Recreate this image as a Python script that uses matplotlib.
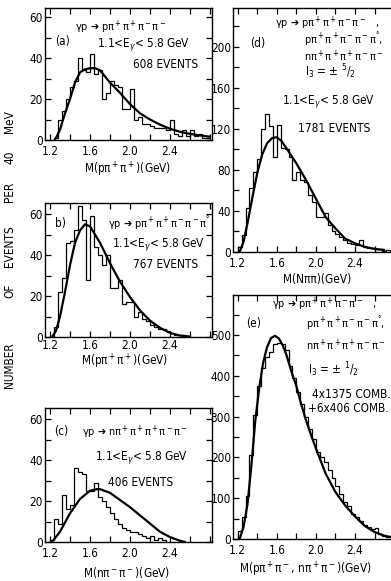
import numpy as np
import matplotlib
matplotlib.use("Agg")
import matplotlib.pyplot as plt
from matplotlib.ticker import MultipleLocator

plt.rcParams['font.family'] = ['DejaVu Sans']
plt.rcParams['font.stretch'] = 'condensed'
plt.rcParams['mathtext.fontset'] = 'dejavusans'

W, H = 391, 581
BIN = 0.04

# ---------------- data ----------------
a_start = 1.24
a_counts = [1, 10, 14, 20, 26, 29, 40, 34, 33, 42, 32, 34, 20, 23, 29, 27, 26, 15, 15, 25,
            10, 11, 8, 8, 7, 6, 6, 6, 5, 10, 3, 2, 5, 2, 5, 2, 3, 1, 1]
a_curve_x = [1.25, 1.30, 1.35, 1.40, 1.45, 1.50, 1.55, 1.60, 1.65, 1.70, 1.80, 1.90, 2.00,
             2.10, 2.20, 2.30, 2.40, 2.50, 2.60, 2.70, 2.80]
a_curve_y = [0, 5, 13, 20, 28, 33, 34.5, 35, 35, 34, 28, 23, 17.5, 13, 10, 7.5, 5.5, 4, 3, 2.2, 1.6]

b_start = 1.24
b_counts = [5, 22, 29, 46, 47, 52, 64, 57, 28, 59, 44, 40, 35, 40, 24, 24, 28, 16, 17, 17,
            10, 12, 9, 8, 6, 5, 4, 4, 3, 2, 1, 1, 1]
b_curve_x = [1.22, 1.26, 1.30, 1.35, 1.40, 1.45, 1.50, 1.55, 1.60, 1.70, 1.80, 1.90, 2.00,
             2.10, 2.20, 2.30, 2.40, 2.50, 2.60]
b_curve_y = [0, 3, 10, 22, 35, 46, 52, 55, 54, 46, 36, 27, 19.5, 13, 8, 4.5, 2, 0.7, 0.2]

c_start = 1.20
c_counts = [1, 11, 9, 23, 16, 18, 36, 34, 33, 25, 25, 29, 22, 20, 17, 14, 11, 9, 7, 6,
            5, 5, 4, 3, 2, 3, 1, 2, 1]
c_curve_x = [1.22, 1.30, 1.40, 1.50, 1.60, 1.67, 1.70, 1.80, 1.90, 2.00, 2.10, 2.20, 2.30,
             2.40, 2.50, 2.55]
c_curve_y = [0, 5, 14, 21, 25, 25.8, 25.8, 24, 20.5, 17, 13, 9, 5, 2.4, 0.6, 0]

d_start = 1.20
d_counts = [5, 17, 43, 62, 78, 91, 120, 135, 123, 93, 124, 101, 100, 93, 70, 78, 70, 68, 56, 49,
            34, 34, 38, 26, 20, 18, 15, 12, 9, 8, 7, 12, 5, 4, 4, 3, 3, 1, 2]
d_curve_x = [1.22, 1.26, 1.30, 1.35, 1.40, 1.45, 1.50, 1.55, 1.60, 1.65, 1.70, 1.80, 1.90,
             2.00, 2.10, 2.20, 2.30, 2.40, 2.50, 2.60, 2.70]
d_curve_y = [0, 10, 28, 53, 77, 95, 106, 111, 112, 108, 101, 86.5, 70, 52, 34, 23, 13, 8.5, 5, 3, 2]

e_start = 1.20
e_counts = [20, 55, 105, 205, 305, 375, 420, 445, 458, 478, 480, 478, 462, 425, 395, 360, 330,
            300, 270, 245, 212, 200, 188, 168, 150, 130, 110, 90, 80, 62, 55, 45, 35, 30, 25, 28,
            12, 8, 6, 4]
e_curve_x = [1.22, 1.26, 1.30, 1.34, 1.38, 1.42, 1.46, 1.50, 1.54, 1.58, 1.62, 1.66, 1.70,
             1.75, 1.80, 1.85, 1.90, 1.95, 2.00, 2.10, 2.20, 2.30, 2.40, 2.50, 2.60, 2.70, 2.78]
e_curve_y = [0, 30, 85, 180, 290, 370, 432, 470, 492, 498, 492, 475, 450, 410, 375, 330, 290,
             255, 222, 160, 115, 82, 55, 32, 17, 8, 4]

x_ticklabels = ["1.2", "1.6", "2.0", "2.4"]

# ---------------- layout helpers ----------------
fig = plt.figure(figsize=(W / 100, H / 100), dpi=100)


def rect(x0, y0, x1, y1):
    return [x0 / W, 1 - y1 / H, (x1 - x0) / W, (y1 - y0) / H]


def ftext(x, y, s, ha='left', va='center', size=8.5, **kw):
    fig.text(x / W, 1 - y / H, s, ha=ha, va=va, fontsize=size, **kw)


def setup(ax, xlim, ylim, ymaj, ymin, right_spine=True, xpad=3.5):
    ax.set_xlim(*xlim)
    ax.set_ylim(*ylim)
    ax.set_xticks([float(t) for t in x_ticklabels])
    ax.set_xticklabels(x_ticklabels)
    ax.xaxis.set_minor_locator(MultipleLocator(0.2))
    ax.yaxis.set_major_locator(MultipleLocator(ymaj))
    ax.yaxis.set_minor_locator(MultipleLocator(ymin))
    ax.tick_params(which='both', direction='in', top=True, right=right_spine,
                   length=4, width=0.9, labelsize=8.5)
    ax.tick_params(axis='x', pad=xpad)
    ax.tick_params(axis='y', pad=1.5)
    for s in ax.spines.values():
        s.set_linewidth(1.0)
    if not right_spine:
        ax.spines['right'].set_visible(False)


def draw(ax, start, counts, cx, cy):
    edges = start + BIN * np.arange(len(counts) + 1)
    ax.stairs(counts, edges, color='black', linewidth=0.9)
    ax.plot(cx, cy, color='black', linewidth=1.6, solid_capstyle='round')


axa = fig.add_axes(rect(45, 8, 212, 140))
setup(axa, (1.15, 2.82), (0, 64.4), 20, 10)
draw(axa, a_start, a_counts, a_curve_x, a_curve_y)

axb = fig.add_axes(rect(45, 203, 212, 337))
setup(axb, (1.15, 2.82), (0, 65.4), 20, 10, xpad=1.5)
draw(axb, b_start, b_counts, b_curve_x, b_curve_y)

axc = fig.add_axes(rect(45, 408, 212, 542))
setup(axc, (1.15, 2.82), (0, 65.4), 20, 10)
draw(axc, c_start, c_counts, c_curve_x, c_curve_y)

axd = fig.add_axes(rect(233, 8, 391, 252))
setup(axd, (1.152, 2.768), (0, 238), 40, 20, right_spine=False)
draw(axd, d_start, d_counts, d_curve_x, d_curve_y)

axe = fig.add_axes(rect(233, 295, 391, 539))
setup(axe, (1.152, 2.768), (0, 598), 100, 50, right_spine=False)
draw(axe, e_start, e_counts, e_curve_x, e_curve_y)

# ---------------- annotations ----------------
FS = 7.8  # reaction formulas
EG = r"1.1<E$_\gamma$< 5.8 GeV"
R4a = r"γp ➔ p$\mathregular{π^+π^+π^-π^-}$"
R5a = r"p$\mathregular{π^+π^+π^-π^-π^°}$,"
R5b = r"n$\mathregular{π^+π^+π^+π^-π^-}$"
# (a)
ftext(75, 27, R4a, size=FS)
ftext(55, 42, "(a)")
ftext(97, 45, EG)
ftext(198, 64, "608 EVENTS", ha='right')
ftext(128, 170, r"M(p$\mathregular{π^+π^+}$)(GeV)", ha='center')
# (b)
ftext(55, 223, "b)")
ftext(108, 224, r"γp ➔ p$\mathregular{π^+π^+π^-π^-π^°}$", size=FS)
ftext(112, 244, EG)
ftext(198, 264, "767 EVENTS", ha='right')
ftext(125, 362, r"M(p$\mathregular{π^+π^+}$)(GeV)", ha='center')
# (c)
ftext(54, 432, "(c)")
ftext(82, 432, r"γp ➔ n$\mathregular{π^+π^+π^+π^-π^-}$", size=FS)
ftext(95, 458, EG)
ftext(108, 483, "406 EVENTS")
ftext(127, 572, r"M(n$\mathregular{π^-π^-}$)(GeV)", ha='center')
# (d)
ftext(250, 43, "(d)")
ftext(275, 23, R4a + "   ,", size=FS)
ftext(304, 40, R5a, size=FS)
ftext(304, 56, R5b, size=FS)
ftext(305, 72, r"I$_3$ = $\pm$ $^5$/$_2$")
ftext(282, 102, EG)
ftext(298, 128, "1781 EVENTS")
ftext(317, 280, "M(Nππ)(GeV)", ha='center')
# (e)
ftext(246, 323, "(e)")
ftext(272, 304, R4a + "   ,", size=FS)
ftext(306, 324, R5a, size=FS)
ftext(306, 345, R5b, size=FS)
ftext(308, 370, r"I$_3$ = $\pm$ $^1$/$_2$")
ftext(312, 395, "4x1375 COMB.")
ftext(308, 408, "+6x406 COMB.")
ftext(305, 570, r"M(p$\mathregular{π^+π^-}$, n$\mathregular{π^+π^-}$)(GeV)", ha='center')

# y axis label (spread over the left margin)
for word, yc in [("MeV", 122), ("40", 157), ("PER", 192), ("EVENTS", 246),
                 ("OF", 291), ("NUMBER", 365)]:
    ftext(10, yc, word, ha='center', rotation=90)

fig.savefig("out.png", dpi=100)
